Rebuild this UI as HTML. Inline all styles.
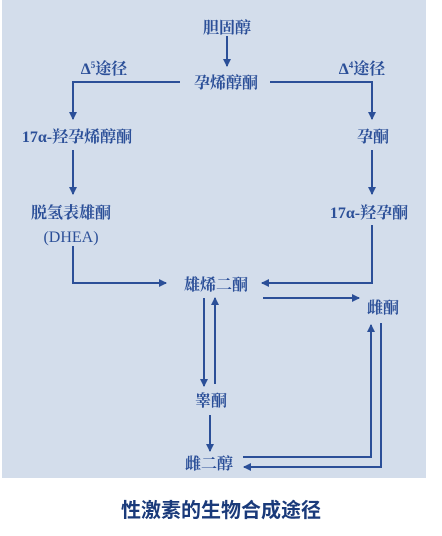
<!DOCTYPE html>
<html><head><meta charset="utf-8"><style>
body{margin:0;width:442px;height:531px;background:#fff;overflow:hidden;font-family:"Liberation Serif","Noto Serif CJK SC",serif}
</style></head><body>
<svg width="442" height="531" viewBox="0 0 442 531" xmlns="http://www.w3.org/2000/svg">
<defs><marker id="a" markerWidth="8" markerHeight="8" refX="7" refY="4" orient="auto" markerUnits="userSpaceOnUse"><path d="M0,0 L8,4 L0,8 z" fill="#2b4f98"/></marker></defs>
<rect x="2" y="0" width="424" height="478" fill="#d3ddeb"/>
<g fill="#2b4f98" font-size="16" font-weight="bold" text-anchor="middle" font-family="Liberation Serif,'Noto Serif CJK SC',serif">
<text x="227" y="33">胆固醇</text>
<text x="226" y="88">孕烯醇酮</text>
<text x="104" y="74">Δ<tspan font-size="9" dy="-6">5</tspan><tspan dy="6">途径</tspan></text>
<text x="362" y="74">Δ<tspan font-size="9" dy="-6">4</tspan><tspan dy="6">途径</tspan></text>
<text x="77" y="142">17α-羟孕烯醇酮</text>
<text x="373" y="142">孕酮</text>
<text x="71" y="218">脱氢表雄酮</text>
<text x="71" y="242" font-weight="normal">(DHEA)</text>
<text x="369" y="218">17α-羟孕酮</text>
<text x="216" y="290">雄烯二酮</text>
<text x="383" y="313">雌酮</text>
<text x="211" y="406">睾酮</text>
<text x="209" y="469">雌二醇</text>
</g>
<g stroke="#2b4f98" stroke-width="2" fill="none">
<line x1="227" y1="36" x2="227" y2="66" marker-end="url(#a)"/>
<polyline points="180,82 73,82 73,119" marker-end="url(#a)"/>
<polyline points="270,82 372,82 372,119" marker-end="url(#a)"/>
<line x1="73" y1="150" x2="73" y2="194" marker-end="url(#a)"/>
<line x1="372" y1="150" x2="372" y2="194" marker-end="url(#a)"/>
<polyline points="73,246 73,283 166,283" marker-end="url(#a)"/>
<polyline points="372,225 372,283 262,283" marker-end="url(#a)"/>
<line x1="263" y1="298" x2="359" y2="298" marker-end="url(#a)"/>
<line x1="204" y1="298" x2="204" y2="386" marker-end="url(#a)"/>
<line x1="215" y1="384" x2="215" y2="298" marker-end="url(#a)"/>
<line x1="210" y1="415" x2="210" y2="451" marker-end="url(#a)"/>
<polyline points="243,457 371,457 371,325" marker-end="url(#a)"/>
<polyline points="381,323 381,467 244,467" marker-end="url(#a)"/>
</g>
<text x="221" y="517" text-anchor="middle" font-size="20" font-weight="bold" fill="#1a3a7a" font-family="Liberation Sans,'Noto Sans CJK SC',sans-serif">性激素的生物合成途径</text>
</svg>
</body></html>
